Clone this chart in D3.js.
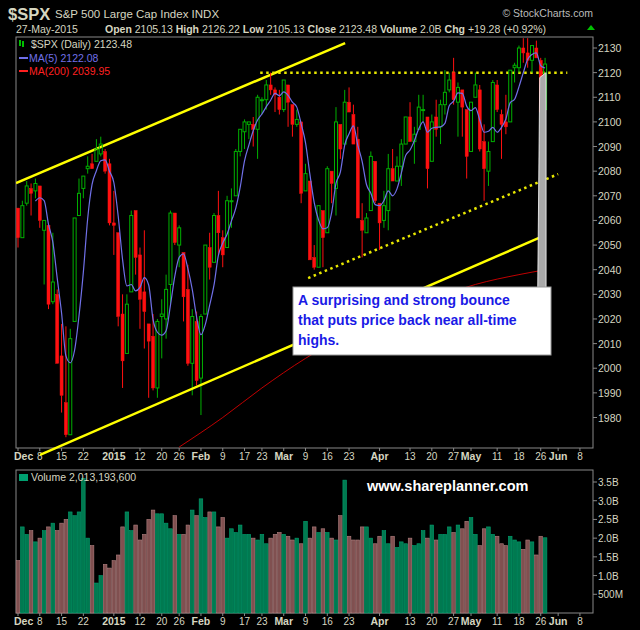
<!DOCTYPE html>
<html><head><meta charset="utf-8">
<script src="https://cdn.jsdelivr.net/npm/d3@7"></script>
<style>body{margin:0;background:#000}svg{display:block}</style>
</head><body>
<script>
const open=[2065,2053,2067,2073,2072,2074,2056,2058,2027,2030,2005,1986,1973,2019,2062,2073,2081,2083,2084,2087,2088,2083,
2059,2055,2022,2006,2031,2064,2046,2031,2018,2013,1992,2021,2020,2034,2063,2050,2047,2032,2002,2019,
1996,2022,2049,2043,2062,2053,2049,2068,2070,2088,2096,2099,2099,2097,2109,2109,2115,2113,2110,
2105,2115,2107,2099,2100,2072,2076,2045,2041,2064,2055,2080,2073,2099,2091,2108,2103,2093,2060,2055,2064,2084,
2067,2060,2064,2081,2076,2082,2091,2102,2092,2097,2105,2102,2084,2102,2098,2107,2113,2120,2108,2113,2105,
2088,2110,2113,2092,2080,2092,2115,2103,2100,2100,2122,2122,2130,2128,2125,2130,2125,2105];
const high=[2065,2068,2076,2075,2077,2074,2060,2058,2055,2032,2018,2017,2016,2061,2077,2078,2086,2087,2093,2094,2089,2085,
2072,2055,2030,2030,2064,2064,2049,2056,2018,2022,2020,2028,2038,2064,2063,2058,2047,2042,2024,2023,
2022,2050,2055,2063,2072,2056,2070,2073,2089,2097,2101,2100,2102,2111,2110,2117,2120,2114,2113,
2117,2115,2107,2105,2100,2083,2076,2050,2066,2064,2082,2080,2106,2099,2113,2114,2107,2098,2067,2063,2088,2084,
2067,2072,2087,2089,2086,2093,2102,2108,2098,2111,2111,2102,2103,2109,2109,2121,2120,2126,2116,2113,2105,
2108,2120,2115,2099,2092,2117,2117,2105,2111,2121,2124,2131,2134,2134,2131,2133,2126,2126];
const low=[2049,2053,2066,2062,2069,2057,2034,2024,2026,2002,1982,1972,1973,2019,2062,2069,2079,2081,2084,2086,2079,2058,
2046,2017,1992,2006,2031,2038,2016,2008,1988,1991,1988,2004,2012,2026,2050,2041,2019,2001,1989,1993,
1981,2022,2036,2043,2046,2041,2049,2057,2070,2086,2089,2093,2090,2085,2103,2105,2111,2104,2103,
2104,2098,2094,2098,2067,2072,2044,2040,2041,2041,2055,2067,2062,2085,2091,2104,2091,2061,2045,2055,2064,2067,
2048,2057,2056,2076,2076,2074,2091,2092,2083,2097,2100,2073,2084,2094,2091,2103,2112,2107,2094,2094,2077,
2088,2110,2088,2068,2074,2092,2104,2085,2095,2100,2116,2120,2124,2122,2120,2126,2099,2105];
const close=[2053,2066,2074,2071,2075,2060,2060,2026,2035,2002,1989,1973,2012,2061,2071,2078,2082,2081,2089,2091,2080,2059,
2058,2021,2003,2026,2062,2045,2028,2023,2011,1992,2019,2022,2032,2063,2051,2057,2029,2002,2021,1995,
2021,2050,2041,2062,2055,2046,2068,2068,2088,2097,2100,2100,2097,2110,2109,2115,2113,2111,2105,
2117,2108,2099,2101,2071,2079,2044,2041,2066,2053,2081,2075,2100,2089,2108,2104,2091,2061,2056,2061,2086,2068,
2059,2066,2081,2076,2082,2091,2102,2092,2095,2106,2105,2081,2100,2097,2107,2112,2117,2109,2114,2106,2086,
2108,2115,2089,2081,2088,2116,2105,2099,2098,2121,2123,2130,2128,2125,2131,2126,2104,2123.48];
const volume=[1.4,2.3,2.1,2.2,1.9,2.0,2.2,2.3,2.4,2.2,2.4,2.5,2.7,2.6,2.7,3.6,2.0,1.8,0.8,1.0,1.3,1.2,
1.4,1.55,2.3,2.7,2.2,2.35,1.95,2.1,2.5,2.75,2.65,2.65,2.4,2.25,2.6,2.1,2.1,2.35,2.75,2.6,
3.05,2.55,2.7,2.7,2.3,2.55,2.0,2.25,2.15,2.35,2.1,2.1,2.0,1.95,2.1,1.85,2.0,2.1,2.15,
2.1,2.05,1.95,2.0,1.85,2.45,2.0,2.3,2.15,2.25,2.15,2.0,1.95,2.6,3.55,2.05,1.95,1.95,2.3,2.3,2.0,1.85,
2.05,2.2,1.85,2.05,1.75,1.9,1.85,2.0,1.8,1.85,2.2,2.0,2.35,1.95,2.1,2.1,2.3,2.15,2.35,2.25,2.45,
2.55,2.1,1.8,2.25,2.3,2.1,2.05,1.85,1.8,2.05,1.95,1.9,1.7,1.95,1.9,1.55,2.05,2.01];
const ma200Index=[37,47,56,66,76,85,95,105,115,121];
const ma200Value=[1968,1980,1992,2004,2014,2021,2028,2034,2038,2039.95];
const tickIndex=[0,5,10,15,22,28,33,37,42,47,52,56,61,66,71,76,83,90,95,100,104,110,115,120,124,129];
const tickLabels=["Dec","8","15","22","2015","12","20","26","Feb","9","17","23","Mar","9","16","23","Apr","13","20","27","May","11","18","26","Jun","8"];
const boldTicks=["Dec","2015","Feb","Mar","Apr","May","Jun"];
const priceTicks=[1980,1990,2000,2010,2020,2030,2040,2050,2060,2070,2080,2090,2100,2110,2120,2130];
const volTicks=[0.5,1.0,1.5,2.0,2.5,3.0,3.5];
const volTickLabels=["500M","1.0B","1.5B","2.0B","2.5B","3.0B","3.5B"];
const channelUpper=[[-0.46,2075.2],[75.1,2132]];
const channelLower=[[5.05,1964.8],[119.6,2052.9]];
const resistance=[[55.6,2120],[126.1,2120]];
const support=[[66.6,2036.6],[124,2078.8]];

const W=640,H=630;
const svg=d3.select("body").append("svg").attr("width",W).attr("height",H).style("font-family","Arial, 'Liberation Sans', sans-serif");
svg.append("rect").attr("width",W).attr("height",H).attr("fill","#000");
const L=16,R=593,PT=37,PB=448,VT=470,VB=613;
const x=d3.scaleLinear().domain([-0.46,132]).range([L,R]);
const y=d3.scaleLinear().domain([2130,1980]).range([48,417.5]);
const yv=d3.scaleLinear().domain([0,3.5]).range([VB,482]);
const tc="#d6d6c0";

svg.append("text").attr("x",8).attr("y",20).attr("fill",tc).attr("font-size",16.5).attr("font-weight","bold").text("$SPX");
svg.append("text").attr("x",55).attr("y",18).attr("fill",tc).attr("font-size",11.5).text("S&P 500 Large Cap Index  INDX");
svg.append("text").attr("x",593).attr("y",17).attr("fill","#bbb").attr("font-size",10.5).attr("text-anchor","end").text("© StockCharts.com");
svg.append("text").attr("x",16).attr("y",33).attr("fill",tc).attr("font-size",10.5).text("27-May-2015");
const hdr=svg.append("text").attr("x",105).attr("y",33).attr("fill",tc).attr("font-size",10.5);
[["Open"," 2105.13  "],["High"," 2126.22  "],["Low"," 2105.13  "],["Close"," 2123.48  "],["Volume"," 2.0B  "],["Chg"," +19.28 (+0.92%)"]].forEach(p=>{
 hdr.append("tspan").attr("font-weight","bold").text(p[0]);hdr.append("tspan").text(p[1]);});
svg.append("path").attr("d","M587,30 l4,-5 l4,5z").attr("fill","#00c000");

svg.append("rect").attr("x",L).attr("y",PT).attr("width",R-L).attr("height",PB-PT).attr("fill","none").attr("stroke","#888");
svg.append("rect").attr("x",L).attr("y",VT).attr("width",R-L).attr("height",VB-VT).attr("fill","none").attr("stroke","#888");

svg.append("clipPath").attr("id","cp").append("rect").attr("x",L).attr("y",PT).attr("width",R-L).attr("height",PB-PT);
const gp=svg.append("g").attr("clip-path","url(#cp)");

priceTicks.forEach(p=>{
 svg.append("line").attr("x1",R).attr("x2",R+4).attr("y1",y(p)).attr("y2",y(p)).attr("stroke","#888");
 svg.append("text").attr("x",R+5).attr("y",y(p)+4).attr("fill",tc).attr("font-size",10.5).text(p);
});
[PB,VB].forEach(base=>{
 tickIndex.forEach((t,k)=>{
  svg.append("line").attr("x1",x(t)).attr("x2",x(t)).attr("y1",base).attr("y2",base+3).attr("stroke","#888");
  const b=boldTicks.includes(tickLabels[k]);
  svg.append("text").attr("x",x(t)).attr("y",base+12).attr("text-anchor",tickLabels[k]=="Dec"?"start":"middle").attr("dx",tickLabels[k]=="Dec"?-4:0)
   .attr("fill",tc).attr("font-size",b?10.5:10).attr("font-weight",b?"bold":"normal").text(tickLabels[k]);
 });
});

const line=d3.line().x(d=>x(d[0])).y(d=>y(d[1])).curve(d3.curveMonotoneX);
gp.append("path").attr("d",line(ma200Index.map((d,i)=>[d,ma200Value[i]]))).attr("fill","none").attr("stroke","#c00000").attr("stroke-width",1);

const tl=d3.line().x(d=>x(d[0])).y(d=>y(d[1]));
gp.append("path").attr("d",tl(channelUpper)).attr("stroke","#ffff00").attr("stroke-width",2.5).attr("fill","none");
svg.append("path").attr("d",tl(channelLower)).attr("stroke","#ffff00").attr("stroke-width",2.5).attr("fill","none");
gp.append("path").attr("d",tl(resistance)).attr("stroke","#e8e800").attr("stroke-width",2.5).attr("stroke-dasharray","2.5,3.5").attr("fill","none");
gp.append("path").attr("d",tl(support)).attr("stroke","#e8e800").attr("stroke-width",2.5).attr("stroke-dasharray","2.5,3.5").attr("fill","none");

const cw=3;
close.forEach((c,i)=>{
 const o=open[i],up=c>=o,col=up?"#00b000":"#ff1010";
 gp.append("line").attr("x1",x(i)).attr("x2",x(i)).attr("y1",y(high[i])).attr("y2",y(Math.max(o,c))).attr("stroke",col);
 gp.append("line").attr("x1",x(i)).attr("x2",x(i)).attr("y1",y(Math.min(o,c))).attr("y2",y(low[i])).attr("stroke",col);
 const top=y(Math.max(o,c)),h=Math.max(1,y(Math.min(o,c))-top);
 gp.append("rect").attr("x",x(i)-cw/2).attr("y",top).attr("width",cw).attr("height",h)
  .attr("fill",up?"none":col).attr("stroke",col).attr("stroke-width",up?1:0.5);
});
const ma5=close.map((c,i)=>i<4?null:[i,d3.mean(close.slice(i-4,i+1))]).filter(d=>d);
gp.append("path").attr("d",d3.line().x(d=>x(d[0])).y(d=>y(d[1])).curve(d3.curveMonotoneX)(ma5)).attr("fill","none").attr("stroke","#7070e8").attr("stroke-width",1.2);

svg.append("rect").attr("x",19).attr("y",40).attr("width",2).attr("height",6).attr("fill","#00c000");
svg.append("rect").attr("x",22).attr("y",41).attr("width",2).attr("height",6).attr("fill","#00c000");
svg.append("text").attr("x",31).attr("y",48).attr("fill",tc).attr("font-size",10.5).text("$SPX (Daily) 2123.48");
svg.append("line").attr("x1",19).attr("x2",28).attr("y1",58).attr("y2",58).attr("stroke","#7070e8").attr("stroke-width",2);
svg.append("text").attr("x",29).attr("y",62).attr("fill","#7070e8").attr("font-size",10.5).text("MA(5) 2122.08");
svg.append("line").attr("x1",19).attr("x2",28).attr("y1",71).attr("y2",71).attr("stroke","#ff2020").attr("stroke-width",2);
svg.append("text").attr("x",29).attr("y",75).attr("fill","#ff2020").attr("font-size",10.5).text("MA(200) 2039.95");

svg.append("path").attr("d",`M${x(120)-1},${y(2118)} L${x(121)+1},${y(2120)} L${x(121)+1},290 L${x(120)-3},290Z`).attr("fill","#aaa").attr("stroke","#fff").attr("stroke-width",0.8);
svg.append("rect").attr("x",293).attr("y",287).attr("width",258).attr("height",68).attr("fill","#fff").attr("stroke","#999");
["A surprising and strong bounce","that puts price back near all-time","highs."].forEach((t,k)=>{
 svg.append("text").attr("x",298).attr("y",305+k*20).attr("fill","#1a1ae6").attr("font-size",14).attr("font-weight","bold").text(t);
});

volTicks.forEach((v,k)=>{
 svg.append("line").attr("x1",R).attr("x2",R+4).attr("y1",yv(v)).attr("y2",yv(v)).attr("stroke","#888");
 svg.append("text").attr("x",R+5).attr("y",yv(v)+4).attr("fill",tc).attr("font-size",10).text(volTickLabels[k]);
});
volume.forEach((v,i)=>{
 const up=close[i]>=open[i];
 svg.append("rect").attr("x",x(i)-1.8).attr("y",yv(v)).attr("width",3.6).attr("height",yv(0)-yv(v))
  .attr("fill",up?"#007a50":"#805050").attr("stroke",up?"#00a070":"#b08080").attr("stroke-width",0.6);
});
svg.append("rect").attr("x",19).attr("y",474).attr("width",9).attr("height",7).attr("fill","#00a070");
svg.append("text").attr("x",31).attr("y",481).attr("fill",tc).attr("font-size",10.5).text("Volume 2,013,193,600");
svg.append("text").attr("x",367).attr("y",491).attr("fill","#fff").attr("font-size",14.5).attr("font-weight","bold").text("www.shareplanner.com");
</script>
</body></html>
